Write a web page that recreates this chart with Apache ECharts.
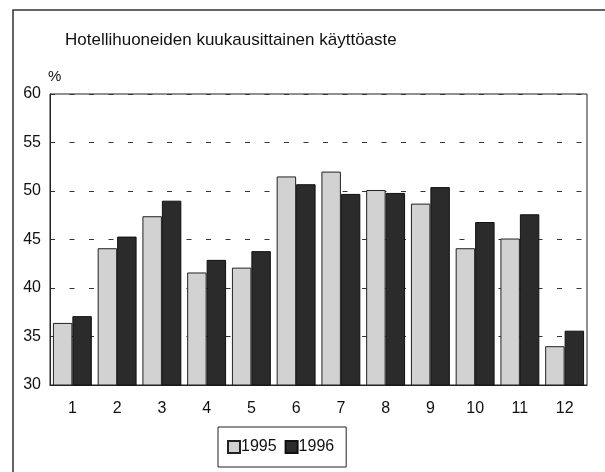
<!DOCTYPE html>
<html>
<head>
<meta charset="utf-8">
<script src="https://cdn.jsdelivr.net/npm/echarts@6/dist/echarts.min.js"></script>
<style>
  html, body { margin: 0; padding: 0; background: #fff; }
  #chart { width: 605px; height: 472px; }
</style>
</head>
<body>
<div id="chart"></div>
<script>
const months = ['1', '2', '3', '4', '5', '6', '7', '8', '9', '10', '11', '12']
const y1995 = [36.4, 44.1, 47.4, 41.6, 42.1, 51.5, 52.0, 50.1, 48.7, 44.1, 45.1, 34.0]
const y1996 = [37.1, 45.3, 49.0, 42.9, 43.8, 50.7, 49.7, 49.8, 50.4, 46.8, 47.6, 35.6]

const font = 'Liberation Sans, Arial, sans-serif'
const chart = echarts.init(document.getElementById('chart'))

chart.setOption({
  animation: false,
  textStyle: { fontFamily: font, color: '#111' },
  graphic: [
    {
      type: 'rect',
      shape: { x: 13, y: 10, width: 620, height: 500 },
      style: { fill: 'none', stroke: '#333', lineWidth: 1.5 }
    }
  ],
  title: {
    text: 'Hotellihuoneiden kuukausittainen käyttöaste',
    left: 60,
    top: 27,
    textStyle: { fontFamily: font, fontSize: 17, fontWeight: 'normal', color: '#111' }
  },
  grid: {
    left: 50,
    right: 18,
    top: 94,
    bottom: 87,
    show: true,
    borderColor: '#222',
    borderWidth: 1
  },
  legend: {
    data: ['1995', '1996'],
    left: 218,
    top: 427,
    padding: [12, 12, 12, 9],
    borderColor: '#222',
    borderWidth: 1,
    itemWidth: 12,
    itemHeight: 12,
    itemGap: 8,
    icon: 'rect',
    textStyle: { fontFamily: font, fontSize: 16, color: '#111', padding: [0, 0, 0, -4] }
  },
  xAxis: {
    type: 'category',
    data: months,
    axisLine: { lineStyle: { color: '#222' } },
    axisTick: { show: false },
    axisLabel: { fontFamily: font, fontSize: 16, color: '#111', margin: 16 }
  },
  yAxis: {
    type: 'value',
    min: 30,
    max: 60,
    interval: 5,
    name: '%',
    nameLocation: 'end',
    nameGap: 10,
    nameTextStyle: { fontFamily: font, fontSize: 15, color: '#111', align: 'left', padding: [0, 0, 0, -2] },
    axisLine: { show: true, lineStyle: { color: '#222' } },
    axisTick: { show: false },
    axisLabel: { fontFamily: font, fontSize: 16, color: '#111', margin: 9 },
    splitLine: {
      lineStyle: { color: '#333', type: [5, 14.5], width: 1 }
    }
  },
  series: [
    {
      name: '1995',
      type: 'bar',
      data: y1995,
      barGap: '0%',
      barCategoryGap: '13%',
      itemStyle: { color: '#d2d2d2', borderColor: '#222', borderWidth: 1 }
    },
    {
      name: '1996',
      type: 'bar',
      data: y1996,
      itemStyle: { color: '#2b2b2b', borderColor: '#111', borderWidth: 1 }
    }
  ]
})
</script>
</body>
</html>
